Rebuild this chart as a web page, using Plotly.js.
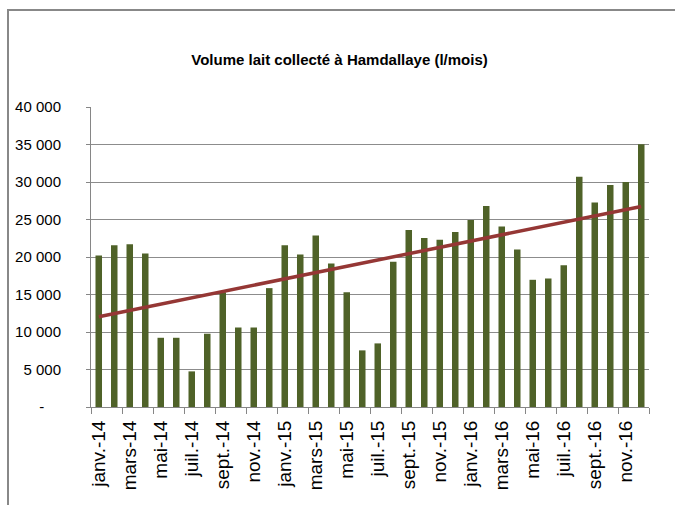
<!DOCTYPE html>
<html>
<head>
<meta charset="utf-8">
<script src="https://cdn.plot.ly/plotly-3.0.1.min.js"></script>
<style>
  html, body { margin: 0; padding: 0; background: #fff; overflow: hidden; width: 675px; height: 506px; }
  #chart { width: 675px; height: 506px; }
  #frame { position: absolute; left: 7px; top: 9px; width: 668px; height: 494px;
           border-top: 2px solid #888888; border-left: 2px solid #888888; pointer-events: none; }
</style>
</head>
<body>
<div id="chart"></div>
<div id="frame"></div>
<script>
// Categories (months)
const months = [
  "janv.-14","févr.-14","mars-14","avr.-14","mai-14","juin-14","juil.-14","août-14","sept.-14","oct.-14","nov.-14","déc.-14",
  "janv.-15","févr.-15","mars-15","avr.-15","mai-15","juin-15","juil.-15","août-15","sept.-15","oct.-15","nov.-15","déc.-15",
  "janv.-16","févr.-16","mars-16","avr.-16","mai-16","juin-16","juil.-16","août-16","sept.-16","oct.-16","nov.-16","déc.-16"
];
const volume = [
  20200, 21580, 21700, 20470, 9230, 9230, 4750, 9770, 15300, 10600, 10600, 15850,
  21580, 20330, 22860, 19130, 15300, 7550, 8480, 19360, 23600, 22550, 22290, 23350,
  24950, 26800, 24060, 21000, 16960, 17140, 18900, 30700, 27260, 29600, 30000, 35030
];
// Y tick labels
const yTickVals = [0, 5000, 10000, 15000, 20000, 25000, 30000, 35000, 40000];
const yTickText = ["-\u00a0\u00a0\u00a0\u00a0", "5 000", "10 000", "15 000", "20 000", "25 000", "30 000", "35 000", "40 000"];

// Linear trend (least squares on month index)
const n = volume.length;
let sx = 0, sy = 0, sxx = 0, sxy = 0;
for (let i = 0; i < n; i++) { sx += i; sy += volume[i]; sxx += i * i; sxy += i * volume[i]; }
const slope = (n * sxy - sx * sy) / (n * sxx - sx * sx);
const intercept = (sy - slope * sx) / n;
const trend = volume.map((_, i) => intercept + slope * i);

const font = "Liberation Sans, Arial, sans-serif";

const data = [
  {
    type: "bar", x: months, y: volume,
    marker: { color: "#4F6228" },
    hoverinfo: "x+y", showlegend: false
  },
  {
    type: "scatter", mode: "lines", x: months, y: trend,
    line: { color: "#953735", width: 3.5 },
    hoverinfo: "skip", showlegend: false
  }
];

const layout = {
  width: 675, height: 506,
  margin: { l: 91, r: 26, t: 107, b: 99 },
  paper_bgcolor: "#ffffff", plot_bgcolor: "#ffffff",
  bargap: 0.58,
  title: {
    text: "<b>Volume lait collecté à Hamdallaye (l/mois)</b>",
    font: { family: font, size: 15, color: "#000000" },
    x: 0.503, xanchor: "center", y: 0.881, yanchor: "middle"
  },
  xaxis: {
    type: "category",
    tickmode: "linear", tick0: 0, dtick: 2,
    tickson: "boundaries",
    ticks: "outside", ticklen: 6, tickcolor: "#868686", tickwidth: 1,
    showline: true, linecolor: "#868686", linewidth: 1,
    showgrid: false, zeroline: false,
    tickangle: -90,
    ticklabelstandoff: 5,
    tickfont: { family: font, size: 19, color: "#000000" }
  },
  yaxis: {
    range: [0, 40000],
    tickmode: "array", tickvals: yTickVals, ticktext: yTickText,
    ticks: "outside", ticklen: 4, tickcolor: "#868686",
    showline: true, linecolor: "#868686", linewidth: 1,
    showgrid: true, gridcolor: "#8c8c8c", gridwidth: 1,
    zeroline: false,
    ticklabelstandoff: 22,
    tickfont: { family: font, size: 15, color: "#000000" }
  }
};

Plotly.newPlot("chart", data, layout, { displayModeBar: false, staticPlot: true });
</script>
</body>
</html>
